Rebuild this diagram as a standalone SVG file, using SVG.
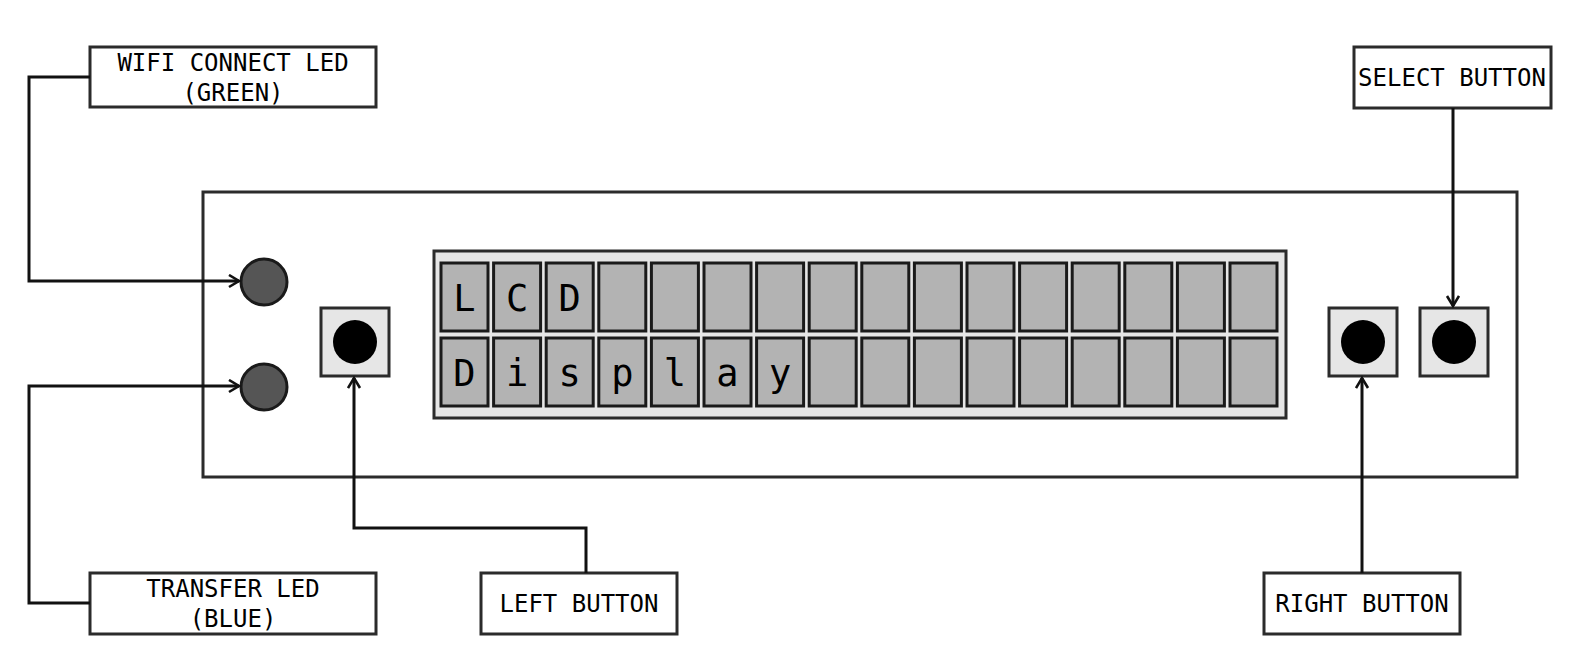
<svg xmlns="http://www.w3.org/2000/svg" width="1580" height="662" viewBox="0 0 1580 662">
<style>
.box{fill:#fff;stroke:#2b2b2b;stroke-width:3}
.panel{fill:#fff;stroke:#2b2b2b;stroke-width:3}
.lcd{fill:#e6e6e6;stroke:#2b2b2b;stroke-width:3}
.cell{fill:#b3b3b3;stroke:#1a1a1a;stroke-width:3}
.led{fill:#555;stroke:#1a1a1a;stroke-width:3}
.btn{fill:#e6e6e6;stroke:#2b2b2b;stroke-width:3}
.knob{fill:#000}
.lbl{font-family:"DejaVu Sans Mono","Liberation Mono",monospace;font-size:24px;fill:#000;text-anchor:middle}
.ch{font-family:"DejaVu Sans Mono","Liberation Mono",monospace;font-size:37px;fill:#000;text-anchor:middle}
.conn{fill:none;stroke:#111;stroke-width:3}
</style>
<defs>
<marker id="arr" markerUnits="userSpaceOnUse" markerWidth="16" markerHeight="16" refX="11" refY="7" orient="auto">
<path d="M1,1 L11,7 L1,13" fill="none" stroke="#111" stroke-width="2.6"/>
</marker>
</defs>
<g id="panel">
<rect class="panel" x="203" y="192" width="1314" height="285"/>
</g>
<g id="lcd">
<rect class="lcd" x="434" y="251" width="852" height="167"/>
<g id="cells">
<rect class="cell" x="441" y="263" width="47" height="68"/><rect class="cell" x="493.6" y="263" width="47" height="68"/><rect class="cell" x="546.2" y="263" width="47" height="68"/><rect class="cell" x="598.8" y="263" width="47" height="68"/><rect class="cell" x="651.4" y="263" width="47" height="68"/><rect class="cell" x="704" y="263" width="47" height="68"/><rect class="cell" x="756.6" y="263" width="47" height="68"/><rect class="cell" x="809.2" y="263" width="47" height="68"/><rect class="cell" x="861.8" y="263" width="47" height="68"/><rect class="cell" x="914.4" y="263" width="47" height="68"/><rect class="cell" x="967" y="263" width="47" height="68"/><rect class="cell" x="1019.6" y="263" width="47" height="68"/><rect class="cell" x="1072.2" y="263" width="47" height="68"/><rect class="cell" x="1124.8" y="263" width="47" height="68"/><rect class="cell" x="1177.4" y="263" width="47" height="68"/><rect class="cell" x="1230" y="263" width="47" height="68"/>
<rect class="cell" x="441" y="338" width="47" height="68"/><rect class="cell" x="493.6" y="338" width="47" height="68"/><rect class="cell" x="546.2" y="338" width="47" height="68"/><rect class="cell" x="598.8" y="338" width="47" height="68"/><rect class="cell" x="651.4" y="338" width="47" height="68"/><rect class="cell" x="704" y="338" width="47" height="68"/><rect class="cell" x="756.6" y="338" width="47" height="68"/><rect class="cell" x="809.2" y="338" width="47" height="68"/><rect class="cell" x="861.8" y="338" width="47" height="68"/><rect class="cell" x="914.4" y="338" width="47" height="68"/><rect class="cell" x="967" y="338" width="47" height="68"/><rect class="cell" x="1019.6" y="338" width="47" height="68"/><rect class="cell" x="1072.2" y="338" width="47" height="68"/><rect class="cell" x="1124.8" y="338" width="47" height="68"/><rect class="cell" x="1177.4" y="338" width="47" height="68"/><rect class="cell" x="1230" y="338" width="47" height="68"/>
</g>
<text class="ch" x="464.5" y="311">L</text><text class="ch" x="517.1" y="311">C</text><text class="ch" x="569.7" y="311">D</text>
<text class="ch" x="464.5" y="386">D</text><text class="ch" x="517.1" y="386">i</text><text class="ch" x="569.7" y="386">s</text><text class="ch" x="622.3" y="386">p</text><text class="ch" x="674.9" y="386">l</text><text class="ch" x="727.5" y="386">a</text><text class="ch" x="780.1" y="386">y</text>
</g>
<g id="led-wifi"><circle class="led" cx="264" cy="282" r="23"/></g>
<g id="led-transfer"><circle class="led" cx="264" cy="387" r="23"/></g>
<g id="btn-left"><rect class="btn" x="321" y="308" width="68" height="68"/><circle class="knob" cx="355" cy="342" r="22"/></g>
<g id="btn-right"><rect class="btn" x="1329" y="308" width="68" height="68"/><circle class="knob" cx="1363" cy="342" r="22"/></g>
<g id="btn-select"><rect class="btn" x="1420" y="308" width="68" height="68"/><circle class="knob" cx="1454" cy="342" r="22"/></g>
<g id="label-wifi"><rect class="box" x="90" y="47" width="286" height="60"/><text class="lbl" x="233" y="71">WIFI CONNECT LED</text><text class="lbl" x="233" y="101">(GREEN)</text></g>
<g id="label-transfer"><rect class="box" x="90" y="573" width="286" height="61"/><text class="lbl" x="233" y="597">TRANSFER LED</text><text class="lbl" x="233" y="627">(BLUE)</text></g>
<g id="label-left"><rect class="box" x="481" y="573" width="196" height="61"/><text class="lbl" x="579" y="612">LEFT BUTTON</text></g>
<g id="label-right"><rect class="box" x="1264" y="573" width="196" height="61"/><text class="lbl" x="1362" y="612">RIGHT BUTTON</text></g>
<g id="label-select"><rect class="box" x="1354" y="47" width="197" height="61"/><text class="lbl" x="1452" y="86">SELECT BUTTON</text></g>
<g id="connectors">
<path class="conn" d="M90,77 H29 V281 H239" marker-end="url(#arr)"/>
<path class="conn" d="M90,603 H29 V386 H239" marker-end="url(#arr)"/>
<path class="conn" d="M586,573 V528 H354 V378" marker-end="url(#arr)"/>
<path class="conn" d="M1362,573 V378" marker-end="url(#arr)"/>
<path class="conn" d="M1453,108 V306" marker-end="url(#arr)"/>
</g>
</svg>
